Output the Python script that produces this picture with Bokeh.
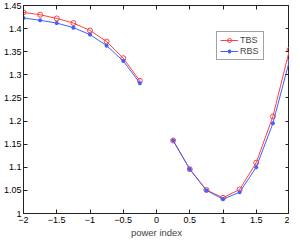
import math
from bokeh.plotting import figure
from bokeh.models import LinearAxis, FixedTicker, Legend, LegendItem, Range1d, CustomJSTickFormatter
from bokeh.embed import file_html
from bokeh.resources import INLINE

power_index = [-2.0, -1.75, -1.5, -1.25, -1.0, -0.75, -0.5, -0.25, 0.0,
               0.25, 0.5, 0.75, 1.0, 1.25, 1.5, 1.75, 2.0]
tbs = [1.435, 1.430, 1.422, 1.412, 1.396, 1.372, 1.336, 1.287, math.nan,
       1.158, 1.096, 1.051, 1.034, 1.052, 1.110, 1.210, 1.354]
rbs = [1.423, 1.418, 1.412, 1.402, 1.387, 1.363, 1.330, 1.282, math.nan,
       1.158, 1.096, 1.050, 1.031, 1.046, 1.100, 1.195, 1.331]
x_ticks = [-2, -1.5, -1, -0.5, 0, 0.5, 1, 1.5, 2]
y_ticks = [1.0, 1.05, 1.1, 1.15, 1.2, 1.25, 1.3, 1.35, 1.4, 1.45]
x_tick_labels = {-2: "\u22122", -1.5: "\u22121.5", -1: "\u22121", -0.5: "\u22120.5",
                 0: "0", 0.5: "0.5", 1: "1", 1.5: "1.5", 2: "2"}
y_tick_labels = {1.0: "1", 1.05: "1.05", 1.1: "1.1", 1.15: "1.15", 1.2: "1.2",
                 1.25: "1.25", 1.3: "1.3", 1.35: "1.35", 1.4: "1.4", 1.45: "1.45"}

FONT = "Liberation Sans"
RED = "#ff4040"
BLUE = "#4060ff"
AXC = "#222222"

p = figure(frame_width=266, frame_height=208, output_backend="svg", toolbar_location=None,
           x_range=Range1d(-2, 2), y_range=Range1d(1.0, 1.45),
           min_border_left=0, min_border_right=0, min_border_top=5, min_border_bottom=0)
p.xgrid.visible = False
p.ygrid.visible = False
p.outline_line_color = AXC
p.outline_line_width = 1

def style_axis(ax, ticks):
    ax.ticker = FixedTicker(ticks=ticks)
    ax.major_tick_in = 4
    ax.major_tick_out = 0
    ax.minor_tick_in = 0
    ax.minor_tick_out = 0
    ax.axis_line_color = AXC
    ax.major_tick_line_color = AXC
    ax.major_label_text_font = FONT
    ax.major_label_text_color = "#000000"
    ax.major_label_text_font_size = "9px"

style_axis(p.xaxis[0], x_ticks)
p.xaxis[0].major_label_overrides = x_tick_labels
p.xaxis[0].major_label_standoff = 3
p.xaxis[0].axis_label = "power index"
p.xaxis[0].axis_label_text_font = FONT
p.xaxis[0].axis_label_text_font_size = "9.5px"
p.xaxis[0].axis_label_text_font_style = "normal"
p.xaxis[0].axis_label_standoff = 1
style_axis(p.yaxis[0], y_ticks)
p.yaxis[0].major_label_overrides = y_tick_labels
p.yaxis[0].major_label_standoff = 2

blank = "return ''"
top = LinearAxis(formatter=CustomJSTickFormatter(code=blank))
style_axis(top, x_ticks)
top.major_label_standoff = 0
p.add_layout(top, "above")
right = LinearAxis(formatter=CustomJSTickFormatter(code=blank))
style_axis(right, y_ticks)
right.major_label_standoff = 0
p.add_layout(right, "right")

l1 = p.line(power_index, tbs, line_color=RED, line_width=1)
s1 = p.scatter(power_index, tbs, marker="circle", size=5, line_color=RED,
               fill_color=None, line_width=1)
l2 = p.line(power_index, rbs, line_color=BLUE, line_width=1)
s2 = p.scatter(power_index, rbs, marker="asterisk", size=4, line_color=BLUE,
               line_width=1.2)

legend = Legend(items=[LegendItem(label="TBS", renderers=[l1, s1]),
                       LegendItem(label="RBS", renderers=[l2, s2])],
                location=(193, 153))
legend.label_text_font = FONT
legend.label_text_font_size = "9px"
legend.label_standoff = 2
legend.glyph_width = 18
legend.glyph_height = 10
legend.label_height = 10
legend.spacing = 1
legend.padding = 3
legend.margin = 0
legend.border_line_color = "#444444"
legend.border_line_width = 1
legend.background_fill_color = "white"
legend.background_fill_alpha = 1
p.add_layout(legend, "center")

open("out.html", "w").write(file_html(p, INLINE))
